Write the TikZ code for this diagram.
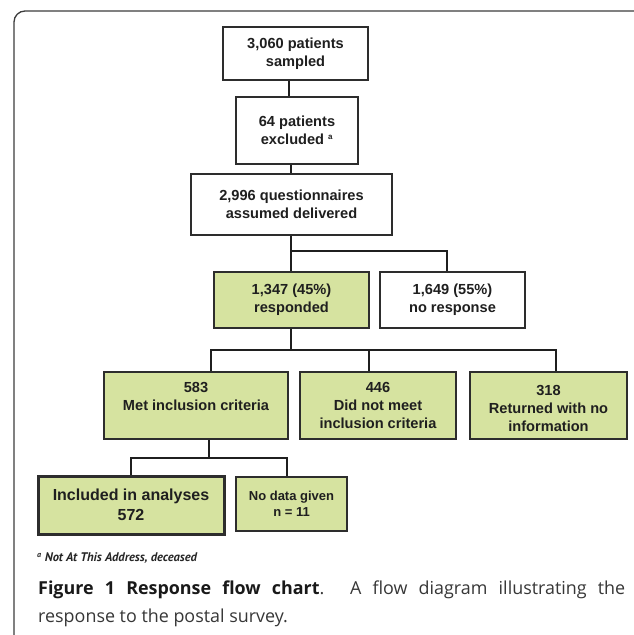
\documentclass[tikz,border=0pt]{standalone}
\usepackage{fontspec}
\setmainfont{PT Sans}
\newfontfamily\arialfam{Liberation Sans}
\newfontfamily\capfam{Open Sans}
\usetikzlibrary{calc}
\definecolor{gfill}{RGB}{214,227,160}
\definecolor{bcol}{RGB}{45,45,45}
\definecolor{framecol}{RGB}{60,60,60}
\definecolor{captxt}{RGB}{55,55,55}
\begin{document}
\begin{tikzpicture}[x=1pt,y=-1pt,
  box/.style={draw=bcol,line width=1.4pt,inner sep=0pt,align=center,text=black!88,
    font=\arialfam\bfseries\fontsize{14.6}{17.8}\selectfont},
  gbox/.style={box,fill=gfill},
  toplabel/.style={anchor=north,yshift=-11pt,align=center,inner sep=0pt,text=black!88,
    font=\arialfam\bfseries\fontsize{14.6}{17.8}\selectfont},
  conn/.style={draw=black!88,line width=1.3pt}]
\useasboundingbox (0,0) rectangle (633,635);
\fill[white] (0,0) rectangle (633,635);
% frame
\draw[framecol,line width=1.3pt,rounded corners=11pt] (640,11) -- (14,11) -- (14,640);
% boxes
\node[box,minimum width=145pt,minimum height=53pt] (b1) at (295.5,53.5) {3,060 patients\\sampled};
\node[box,minimum width=122pt,minimum height=67pt] (b2) at (297,130.5) {64 patients\\excluded \textsuperscript{\fontsize{8}{8}\selectfont a}};
\node[box,minimum width=201pt,minimum height=61pt] (b3) at (291.5,204.5) {2,996 questionnaires\\assumed delivered};
\node[gbox,minimum width=155pt,minimum height=56pt] (g1) at (291.5,300) {1,347 (45\%)\\responded};
\node[box,minimum width=145pt,minimum height=56pt] (nr) at (452.5,300) {1,649 (55\%)\\no response};
\node[gbox,minimum width=184pt,minimum height=67pt,
  label={[toplabel]north:{583\\Met inclusion criteria}}] (r1) at (196,405.5) {};
\node[gbox,minimum width=156pt,minimum height=67pt,
  label={[toplabel]north:{446\\Did not meet\\inclusion criteria}}] (r2) at (378,405.5) {};
\node[gbox,minimum width=157pt,minimum height=67pt,
  label={[toplabel,yshift=-3pt]north:{318\\Returned with no\\information}}] (r3) at (548.5,405.5) {};
\node[gbox,line width=3pt,minimum width=186pt,minimum height=58pt,
  font=\arialfam\bfseries\fontsize{16}{20}\selectfont] (big) at (131,505) {Included in analyses\\572};
\node[gbox,minimum width=111pt,minimum height=54pt,
  font=\arialfam\bfseries\fontsize{13}{16}\selectfont] (small) at (291.5,504) {No data given\\n = 11};
% connectors
\coordinate (k1) at (289,0);
\coordinate (k2) at (291,0);
\draw[conn] (b1.south -| k1) -- (b2.north -| k1);
\draw[conn] (b2.south -| k2) -- (b3.north -| k2);
\coordinate (j1) at (291,251);
\coordinate (j1r) at (447,251);
\draw[conn] (b3.south -| j1) -- (j1) -- (j1r) -- (nr.north -| j1r);
\draw[conn] (j1) -- (g1.north -| j1);
\coordinate (j2) at (291,350);
\coordinate (j2l) at (211,350);
\coordinate (j2m) at (369,350);
\coordinate (j2r) at (556,350);
\draw[conn] (g1.south -| j2) -- (j2);
\draw[conn] (r1.north -| j2l) -- (j2l) -- (j2r) -- (r3.north -| j2r);
\draw[conn] (j2m) -- (r2.north -| j2m);
\coordinate (j3) at (209,458);
\coordinate (j3l) at (131,458);
\coordinate (j3r) at (287,458);
\draw[conn] (r1.south -| j3) -- (j3);
\draw[conn] (big.north -| j3l) -- (j3l) -- (j3r) -- (small.north -| j3r);
% footnote
\node[anchor=west,inner sep=0pt,text=black!85,font=\bfseries\itshape\fontsize{12.5}{14}\selectfont] (fn) at (37,558)
  {\textsuperscript{\fontsize{8}{8}\selectfont a} Not At This Address, deceased};
% caption
\node[anchor=north west,inner sep=0pt,text width=587pt,align=justify,text=captxt,
  font=\capfam\fontsize{17.9}{28}\selectfont] (cap) at (38,580.5)
  {\textbf{\color{black!90}Figure 1 Response flow chart}. A flow diagram illustrating the\linebreak response to the postal survey.};
\end{tikzpicture}
\end{document}
